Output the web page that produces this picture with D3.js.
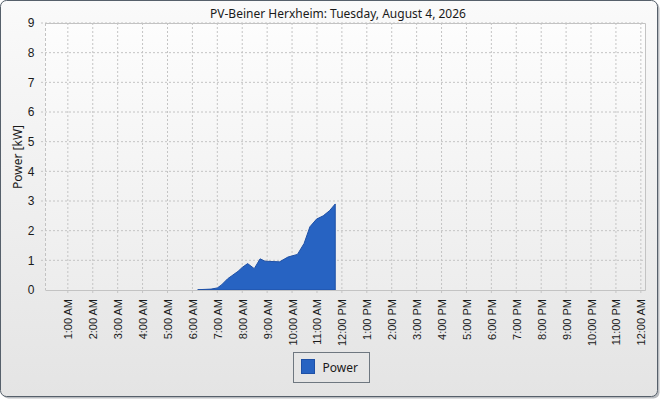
<!DOCTYPE html>
<html>
<head>
<meta charset="utf-8">
<script src="https://cdn.jsdelivr.net/npm/d3@7"></script>
<style>
  html, body { margin: 0; padding: 0; background: #ffffff; }
  svg { display: block; font-family: "Noto Sans", "Open Sans", sans-serif; }
  .grid line { stroke: #c4c4c4; stroke-dasharray: 2,2; }
  .axis path, .axis line { stroke: none; }
  .axis text { fill: #1a1a1a; }
</style>
</head>
<body>
<div id="chart"></div>
<script>
// series: time of day and power in kW
const times = ["06:13", "06:45", "07:00", "07:10", "07:25", "07:35", "07:50", "08:00",
  "08:13", "08:29", "08:43", "08:55", "09:30", "09:50", "10:13", "10:29",
  "10:43", "10:59", "11:15", "11:30", "11:44"];
const power = [0.01, 0.03, 0.07, 0.17, 0.38, 0.48, 0.63, 0.76,
  0.89, 0.72, 1.05, 0.97, 0.95, 1.11, 1.20, 1.57,
  2.13, 2.39, 2.50, 2.67, 2.90];
const yTicks = [0, 1, 2, 3, 4, 5, 6, 7, 8, 9];
const title = "PV-Beiner Herxheim: Tuesday, August 4, 2026";
const yLabel = "Power [kW]";
const seriesName = "Power";

const W = 662, H = 400;
const margin = {top: 23, right: 17, bottom: 110, left: 45};
const width = W - margin.left - margin.right;
const height = 290 - margin.top;

const day = "2026-08-04";
const parse = d3.timeParse("%Y-%m-%d %H:%M");
const midnight = parse(day + " 00:00");
const data = times.map((t, i) => ({time: parse(day + " " + t), value: power[i]}));

const svg = d3.select("#chart").append("svg")
  .attr("width", W)
  .attr("height", H);

const defs = svg.append("defs");
const bgGrad = defs.append("linearGradient").attr("id", "bg")
  .attr("x1", 0).attr("y1", 0).attr("x2", 0).attr("y2", 1);
bgGrad.append("stop").attr("offset", "0%").attr("stop-color", "#fafafa");
bgGrad.append("stop").attr("offset", "100%").attr("stop-color", "#e4e4e4");
const plotGrad = defs.append("linearGradient").attr("id", "plotbg")
  .attr("x1", 0).attr("y1", 0).attr("x2", 0).attr("y2", 1);
plotGrad.append("stop").attr("offset", "0%").attr("stop-color", "#fdfdfd");
plotGrad.append("stop").attr("offset", "100%").attr("stop-color", "#ededed");

// frame with a small shadow
svg.append("rect")
  .attr("x", 2.5).attr("y", 2.5).attr("width", 657).attr("height", 396)
  .attr("rx", 6).attr("fill", "#b9bcc0");
svg.append("rect")
  .attr("x", 0.5).attr("y", 0.5).attr("width", 657).attr("height", 396)
  .attr("rx", 6).attr("fill", "url(#bg)").attr("stroke", "#56606b");

svg.append("text")
  .attr("x", 338).attr("y", 18)
  .attr("text-anchor", "middle")
  .attr("font-size", 12)
  .attr("fill", "#1a1a1a")
  .text(title);

const chart = svg.append("g")
  .attr("transform", "translate(" + margin.left + "," + margin.top + ")");

// axis runs a few minutes past midnight on both ends
const x = d3.scaleTime()
  .domain([d3.timeMinute.offset(midnight, 5), d3.timeMinute.offset(midnight, 24 * 60 + 10)])
  .range([0, width]);

const y = d3.scaleLinear()
  .domain([0, 9])
  .range([height, 0]);

chart.append("rect")
  .attr("width", width).attr("height", height)
  .attr("fill", "url(#plotbg)");

const hourTicks = d3.range(1, 25).map(h => d3.timeHour.offset(midnight, h));

chart.append("g")
  .attr("class", "grid")
  .selectAll("line.v")
  .data(hourTicks)
  .join("line")
    .attr("x1", d => x(d)).attr("x2", d => x(d))
    .attr("y1", 0).attr("y2", height + 4);

chart.append("g")
  .attr("class", "grid")
  .selectAll("line.h")
  .data(yTicks.slice(1))
  .join("line")
    .attr("x1", -4).attr("x2", width)
    .attr("y1", d => y(d)).attr("y2", d => y(d));

const area = d3.area()
  .x(d => x(d.time))
  .y0(height)
  .y1(d => y(d.value));

chart.append("path")
  .datum(data)
  .attr("d", area)
  .attr("fill", "#2763c2")
  .attr("stroke", "#1e50a6")
  .attr("stroke-width", 1);

// plot border
chart.append("path")
  .attr("d", "M0.5," + (height + 0.5) + "H" + (width + 0.5) + "V0.5H0.5")
  .attr("fill", "none").attr("stroke", "#c3c3c3");
chart.append("line")
  .attr("x1", 0.5).attr("x2", 0.5).attr("y1", 0).attr("y2", height)
  .attr("stroke", "#c3c3c3").attr("stroke-dasharray", "3,2");

const yAxis = chart.append("g")
  .attr("class", "axis")
  .call(d3.axisLeft(y).tickValues(yTicks).tickSize(0).tickPadding(14).tickFormat(d3.format("d")));
yAxis.select(".domain").remove();
yAxis.selectAll("text").attr("font-size", 12).attr("text-anchor", "middle");

const fmt = d3.timeFormat("%-I:%M %p");
const xAxis = chart.append("g")
  .attr("class", "axis")
  .attr("transform", "translate(0," + height + ")")
  .call(d3.axisBottom(x).tickValues(hourTicks).tickSize(0).tickFormat(fmt));
xAxis.select(".domain").remove();
xAxis.selectAll("text")
  .attr("font-size", 11)
  .attr("text-anchor", "end")
  .attr("dy", null)
  .attr("transform", "translate(4,9) rotate(-90)")
  .attr("x", 0).attr("y", 0);

svg.append("text")
  .attr("transform", "translate(22,157) rotate(-90)")
  .attr("text-anchor", "middle")
  .attr("font-size", 12)
  .attr("fill", "#1a1a1a")
  .text(yLabel);

// legend
const legend = svg.append("g").attr("transform", "translate(293.5,352.5)");
legend.append("rect")
  .attr("width", 76).attr("height", 30)
  .attr("fill", "none").attr("stroke", "#6e7780");
legend.append("rect")
  .attr("x", 8).attr("y", 7).attr("width", 13).attr("height", 14)
  .attr("fill", "#2763c2").attr("stroke", "#1e50a6");
legend.append("text")
  .attr("x", 29).attr("y", 19.5)
  .attr("font-size", 12)
  .attr("fill", "#1a1a1a")
  .text(seriesName);
</script>
</body>
</html>
